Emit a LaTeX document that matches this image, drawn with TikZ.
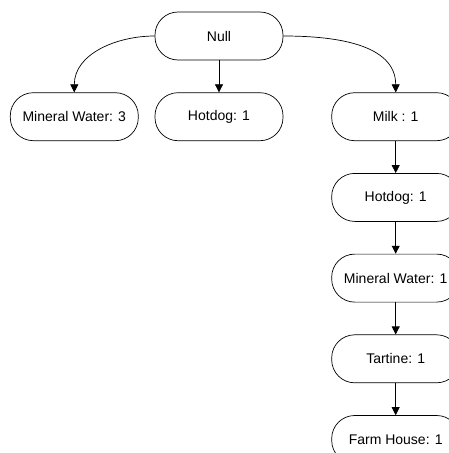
\documentclass[tikz,border=0pt]{standalone}
\usepackage{fontspec}
\setmainfont{Liberation Sans}
\usetikzlibrary{arrows.meta, positioning}

\begin{document}
\begin{tikzpicture}[
  x=1pt, y=1pt,
  node distance=32pt,
  item/.style={rectangle, rounded corners=23pt, draw=black, line width=0.7pt,
               fill=white, minimum width=128pt, minimum height=48pt,
               inner sep=2pt, align=center, font=\fontsize{14}{16}\selectfont},
  arr/.style={-{Triangle[width=8pt,length=8pt]}, line width=0.7pt}
]
\useasboundingbox (0,0) rectangle (449,-453);
\clip (0,0) rectangle (449,-453);

\node[item] (null) at (219,-36) {Null};
\node[item, below=of null] (hot) {Hotdog: 1};
\node[item, left=16pt of hot] (water) {Mineral Water: 3};
\node[item, right=48pt of hot] (milk) {Milk : 1};
\node[item, below=of milk] (hot2) {Hotdog: 1};
\node[item, below=of hot2] (water2) {Mineral Water: 1};
\node[item, below=of water2] (tart) {Tartine: 1};
\node[item, below=of tart] (farm) {Farm House: 1};

\draw[arr] (null.west) to[out=180, in=90] (water.north);
\draw[arr] (null.east) to[out=0, in=90] (milk.north);
\foreach \a/\b in {null/hot, milk/hot2, hot2/water2, water2/tart, tart/farm}
  \draw[arr] (\a) -- (\b);
\end{tikzpicture}
\end{document}
